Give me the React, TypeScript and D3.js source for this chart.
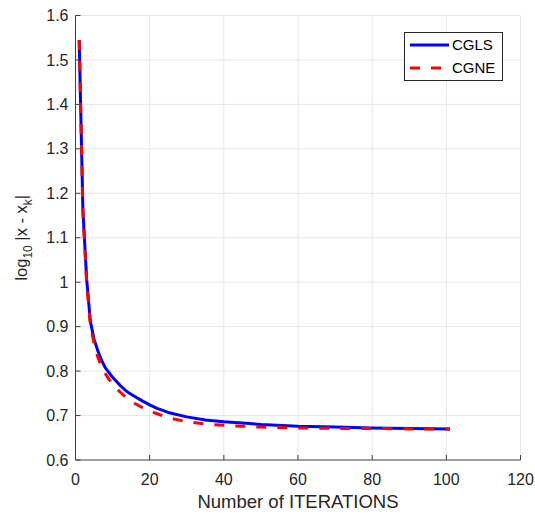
import React from 'react';
import * as d3 from 'd3';

// data
const iterations = [1, 2, 3, 4, 5, 6, 7, 8, 9, 10, 12, 14, 16, 18, 20, 22, 25, 30, 35, 40, 45, 50, 60, 70, 80, 90, 101];
const cgls = [1.545, 1.162, 1.008, 0.912, 0.872, 0.846, 0.825, 0.808, 0.797, 0.786, 0.768, 0.753, 0.743, 0.733, 0.724, 0.716, 0.707, 0.697, 0.69, 0.686, 0.683, 0.68, 0.676, 0.674, 0.672, 0.671, 0.67];
const cgne = [1.545, 1.158, 1.0, 0.905, 0.862, 0.832, 0.81, 0.795, 0.782, 0.771, 0.753, 0.738, 0.727, 0.718, 0.711, 0.704, 0.695, 0.686, 0.681, 0.678, 0.676, 0.674, 0.672, 0.671, 0.671, 0.67, 0.67];
const xTicks = [0, 20, 40, 60, 80, 100, 120];
const yTicks = [0.6, 0.7, 0.8, 0.9, 1, 1.1, 1.2, 1.3, 1.4, 1.5, 1.6];
const series = [
  { name: 'CGLS', values: cgls, color: '#0000ff', dash: '' },
  { name: 'CGNE', values: cgne, color: '#ff0000', dash: '10,11' },
];

const W = 535, H = 518;
const left = 75.5, right = 520.5, top = 15.5, bottom = 460;
const font = 'Liberation Sans, Arial, sans-serif';

export default function App() {
  const x = d3.scaleLinear().domain([0, 120]).range([left, right]);
  const y = d3.scaleLinear().domain([0.6, 1.6]).range([bottom, top]);
  const line = d3.line<number>()
    .x((_, i) => x(iterations[i]))
    .y(d => y(d));

  return (
    <svg width={W} height={H} style={{ position: 'absolute', left: 0, top: 0, background: '#fff' }}>
      {/* grid */}
      <g stroke={'#e6e6e6'} strokeWidth={1}>
        {xTicks.slice(1).map(t => (
          <line key={'gx' + t} x1={x(t)} x2={x(t)} y1={top} y2={bottom} />
        ))}
        {yTicks.slice(1).map(t => (
          <line key={'gy' + t} x1={left} x2={right} y1={y(t)} y2={y(t)} />
        ))}
      </g>

      {/* curves */}
      {series.map(s => (
        <path key={s.name} d={line(s.values) || ''} fill={'none'} stroke={s.color}
          strokeWidth={3} strokeDasharray={s.dash || undefined} strokeLinejoin={'round'} />
      ))}

      {/* axes */}
      <g stroke={'#404040'} strokeWidth={1}>
        <line x1={left} x2={left} y1={top} y2={bottom} />
        <line x1={left} x2={right} y1={bottom} y2={bottom} />
        {xTicks.map(t => (
          <line key={'tx' + t} x1={x(t)} x2={x(t)} y1={bottom} y2={bottom - 5} />
        ))}
        {yTicks.map(t => (
          <line key={'ty' + t} x1={left} x2={left + 5} y1={y(t)} y2={y(t)} />
        ))}
      </g>
      <g fontFamily={font} fontSize={16} fill={'#262626'}>
        {xTicks.map(t => (
          <text key={'lx' + t} x={x(t)} y={bottom + 25} textAnchor={'middle'}>{t}</text>
        ))}
        {yTicks.map(t => (
          <text key={'ly' + t} x={left - 7} y={y(t)} dy={'0.35em'} textAnchor={'end'}>{d3.format('~g')(t)}</text>
        ))}
        <text x={(left + right) / 2} y={508} textAnchor={'middle'} fontSize={18.5}>Number of ITERATIONS</text>
        <text transform={`translate(27, ${(top + bottom) / 2}) rotate(-90)`} textAnchor={'middle'} fontSize={16.5}>
          log<tspan fontSize={12} dy={5}>10</tspan><tspan dy={-5}> |x - x</tspan><tspan fontSize={12} dy={5}>k</tspan><tspan dy={-5}>|</tspan>
        </text>
      </g>

      {/* legend */}
      <g>
        <rect x={404.5} y={32.5} width={98} height={48} fill={'#fff'} stroke={'#262626'} strokeWidth={1} />
        {series.map((s, i) => (
          <g key={'lg' + s.name} transform={`translate(0, ${45 + i * 23})`}>
            <line x1={410} x2={449} y1={0} y2={0} stroke={s.color} strokeWidth={3} strokeDasharray={s.dash || undefined} />
            <text x={452} y={0} dy={'0.35em'} fontFamily={font} fontSize={15} fill={'#000'}>{s.name}</text>
          </g>
        ))}
      </g>
    </svg>
  );
}
